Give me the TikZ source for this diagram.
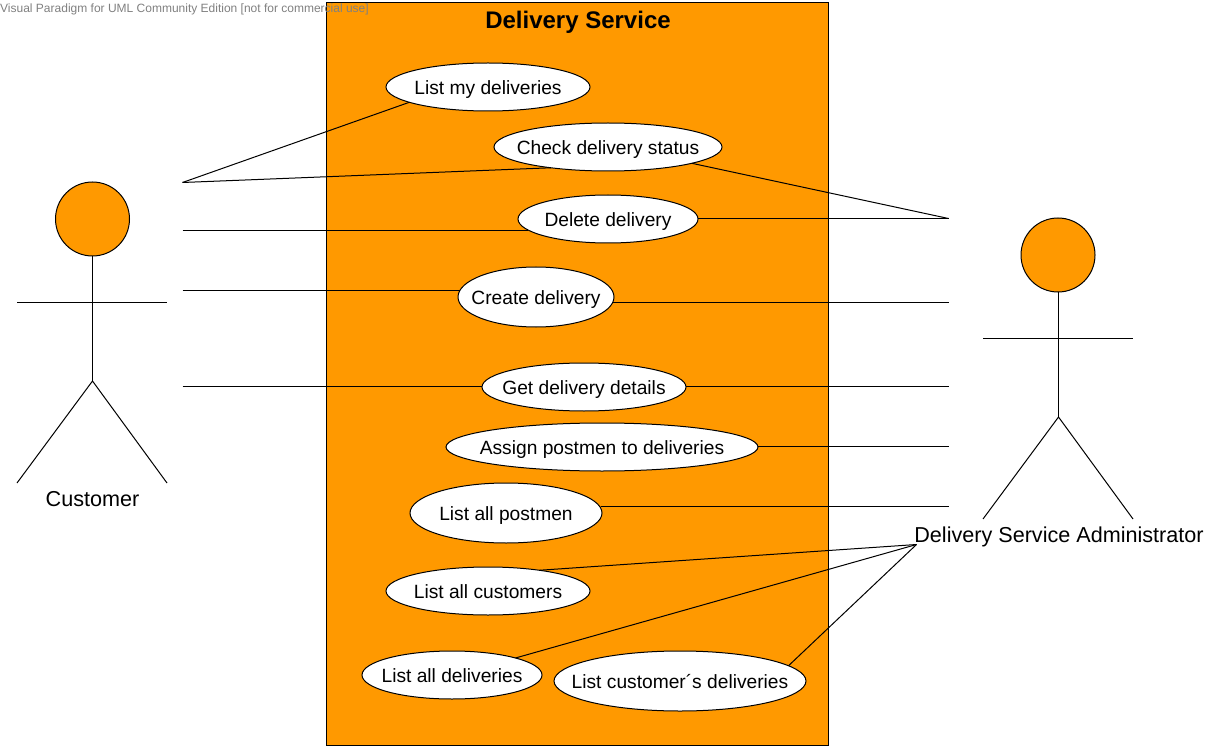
\documentclass[tikz,border=0pt]{standalone}
\usepackage{fontspec}
\setmainfont{Liberation Sans}
\usetikzlibrary{shapes.geometric}
\definecolor{boxorange}{HTML}{FF9900}
\tikzset{
	usecase/.style={draw=black, fill=white, ellipse, inner sep=-40pt, outer sep=0pt, line width=1pt, text height=15pt, text depth=0pt, font=\fontsize{19.2}{21}\selectfont},
	actorlabel/.style={font=\fontsize{21.6}{24}\selectfont, inner sep=0pt, text depth=0pt},
	limb/.style={draw=black, line width=1pt},
	assoc/.style={draw=black, line width=1pt}
}
\begin{document}
\begin{tikzpicture}[x=1pt, y=-1pt]
	%%%%% START %%%%%
	\useasboundingbox (0, 0) rectangle (1220, 751);

	\draw[limb, fill=boxorange] (326.5, 2.5) rectangle (828.5, 745.5);
	\node[font=\fontsize{24}{26}\selectfont\bfseries, inner sep=0pt, text depth=0pt] (title) at (578, 20) {Delivery Service};

	% customer
	\draw[limb, fill=boxorange] (92.5, 219) circle (37);
	\draw[limb] (92.5, 256) -- (92.5, 381);
	\draw[limb] (17, 302.5) -- (167, 302.5);
	\draw[limb] (17, 483) -- (92.5, 381) -- (167, 483);
	\node[actorlabel] (customer) at (92.5, 499) {Customer};

	% administrator
	\draw[limb, fill=boxorange] (1058, 255) circle (37);
	\draw[limb] (1058.5, 292) -- (1058.5, 417);
	\draw[limb] (983, 338.5) -- (1133, 338.5);
	\draw[limb] (983, 519) -- (1058.5, 417) -- (1133, 519);
	\node[actorlabel] (admin) at (1059, 535) {Delivery Service Administrator};

	% use cases
	\node[usecase, minimum width=204, minimum height=48] (mydeliveries) at (488, 87) {List my deliveries};
	\node[usecase, minimum width=228, minimum height=48] (checkstatus) at (608, 147) {Check delivery status};
	\node[usecase, minimum width=180, minimum height=48] (deletedelivery) at (608, 219) {Delete delivery};
	\node[usecase, minimum width=156, minimum height=60] (createdelivery) at (536, 297) {Create delivery};
	\node[usecase, minimum width=204, minimum height=48] (getdetails) at (584, 387) {Get delivery details};
	\node[usecase, minimum width=312, minimum height=48] (assignpostmen) at (602, 447) {Assign postmen to deliveries};
	\node[usecase, minimum width=192, minimum height=60] (allpostmen) at (506, 513) {List all postmen};
	\node[usecase, minimum width=204, minimum height=48] (allcustomers) at (488, 591) {List all customers};
	\node[usecase, minimum width=180, minimum height=48] (alldeliveries) at (452, 675) {List all deliveries};
	\node[usecase, minimum width=252, minimum height=60] (customerdeliveries) at (680, 681) {List customer´s deliveries};

	% free ends of the connectors
	\coordinate (cu1) at (182.5, 182.5);
	\coordinate (cu2) at (182.5, 230.5);
	\coordinate (cu3) at (182.5, 290.5);
	\coordinate (cu4) at (182.5, 386.5);
	\coordinate (ad1) at (948.5, 218.5);
	\coordinate (ad2) at (948.5, 302.5);
	\coordinate (ad3) at (948.5, 386.5);
	\coordinate (ad4) at (948.5, 446.5);
	\coordinate (ad5) at (948.5, 506.5);
	\coordinate (ad6) at (916.5, 544.5);

	\draw[assoc] (cu1) -- (mydeliveries.191.2);
	\draw[assoc] (cu1) -- (checkstatus.200.9);
	\draw[assoc] (cu2) -- (cu2 -| deletedelivery.188.28);
	\draw[assoc] (cu3) -- (cu3 -| createdelivery.175.12);
	\draw[assoc] (cu4) -- (cu4 -| getdetails.179.72);

	\draw[assoc] (ad1) -- (checkstatus.-11.4);
	\draw[assoc] (ad1) -- (ad1 -| deletedelivery.0.32);
	\draw[assoc] (ad2) -- (ad2 -| createdelivery.-4.1);
	\draw[assoc] (ad3) -- (ad3 -| getdetails.0.28);
	\draw[assoc] (ad4) -- (ad4 -| assignpostmen.0.18);
	\draw[assoc] (ad5) -- (ad5 -| allpostmen.3.97);
	\draw[assoc] (ad6) -- (allcustomers.22);
	\draw[assoc] (ad6) -- (alldeliveries.15);
	\draw[assoc] (ad6) -- (customerdeliveries.8.8);

	\node[anchor=west, inner sep=0pt, text=black!50, font=\fontsize{12}{14}\selectfont] (watermark) at (0, 9) {Visual Paradigm for UML Community Edition [not for commercial use]};
	%%%%% END %%%%%
\end{tikzpicture}
\end{document}
